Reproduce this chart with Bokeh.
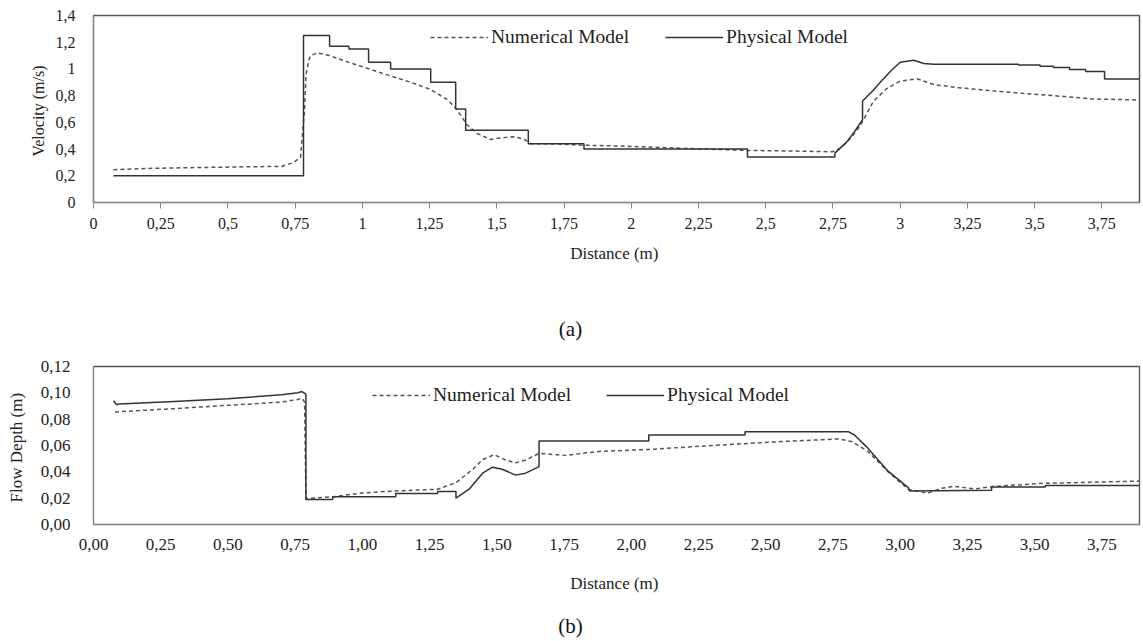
from bokeh.plotting import figure
from bokeh.models import Legend, LegendItem, FixedTicker, Div, Range1d
from bokeh.layouts import column
from bokeh.embed import file_html
from bokeh.resources import INLINE

# ---------------- data: (a) velocity ----------------
vel_phys_x = [0.074, 0.781, 0.781, 0.878, 0.878, 0.95, 0.95, 1.023, 1.023, 1.105, 1.105,
              1.254, 1.254, 1.347, 1.347, 1.384, 1.384, 1.617, 1.617, 1.824, 1.824,
              2.432, 2.432, 2.757, 2.757, 2.80, 2.83, 2.86, 2.86, 2.90, 2.93, 2.965,
              3.0, 3.05, 3.088, 3.125, 3.44, 3.44, 3.52, 3.52, 3.57, 3.57, 3.63, 3.63,
              3.69, 3.69, 3.76, 3.76, 3.9]
vel_phys_y = [0.2, 0.2, 1.25, 1.25, 1.17, 1.17, 1.15, 1.15, 1.05, 1.05, 1.0,
              1.0, 0.9, 0.9, 0.7, 0.7, 0.54, 0.54, 0.44, 0.44, 0.40,
              0.40, 0.34, 0.34, 0.37, 0.45, 0.53, 0.62, 0.76, 0.84, 0.91, 0.985,
              1.05, 1.065, 1.04, 1.035, 1.035, 1.03, 1.03, 1.02, 1.02, 1.01, 1.01, 0.995,
              0.995, 0.98, 0.98, 0.925, 0.925]

vel_num_x = [0.074, 0.2, 0.4, 0.6, 0.70, 0.745, 0.77, 0.785, 0.79, 0.80, 0.807, 0.833,
             0.878, 0.952, 1.03, 1.105, 1.18, 1.254, 1.316, 1.347, 1.37, 1.39, 1.427,
             1.477, 1.52, 1.563, 1.6, 1.626, 1.7, 1.81, 2.0, 2.2, 2.43, 2.6, 2.748,
             2.78, 2.82, 2.853, 2.90, 2.95, 3.0, 3.064, 3.125, 3.225, 3.35, 3.47, 3.6,
             3.72, 3.9]
vel_num_y = [0.245, 0.255, 0.262, 0.268, 0.27, 0.30, 0.34, 0.70, 0.95, 1.06, 1.10, 1.12,
             1.10, 1.047, 0.997, 0.947, 0.90, 0.846, 0.77, 0.706, 0.64, 0.58, 0.517,
             0.472, 0.485, 0.492, 0.475, 0.44, 0.44, 0.43, 0.42, 0.405, 0.39, 0.385, 0.38,
             0.41, 0.49, 0.58, 0.757, 0.853, 0.909, 0.926, 0.883, 0.858, 0.835, 0.815, 0.795,
             0.775, 0.767]

# ---------------- data: (b) flow depth ----------------
dep_phys_x = [0.075, 0.085, 0.095, 0.3, 0.5, 0.7, 0.76, 0.775, 0.79, 0.79, 0.89, 0.89,
              1.124, 1.124, 1.28, 1.28, 1.348, 1.348, 1.397, 1.447, 1.484, 1.52, 1.57,
              1.607, 1.657, 1.657, 2.065, 2.065, 2.423, 2.423, 2.807, 2.83, 2.88, 2.955,
              3.03, 3.035, 3.34, 3.34, 3.54, 3.54, 3.9]
dep_phys_y = [0.094, 0.091, 0.0915, 0.0935, 0.0955, 0.0985, 0.1, 0.101, 0.099, 0.019, 0.019, 0.021,
              0.021, 0.0235, 0.0235, 0.025, 0.025, 0.02, 0.0268, 0.039, 0.0435, 0.042, 0.0375,
              0.039, 0.044, 0.0635, 0.0635, 0.068, 0.068, 0.0705, 0.0705, 0.068, 0.058, 0.0405,
              0.028, 0.0255, 0.026, 0.0285, 0.0285, 0.0297, 0.0297]

dep_num_x = [0.08, 0.3, 0.5, 0.7, 0.76, 0.775, 0.785, 0.79, 0.89, 1.0, 1.124, 1.28, 1.348,
             1.41, 1.447, 1.49, 1.533, 1.57, 1.607, 1.657, 1.756, 1.88, 2.065, 2.3, 2.56,
             2.77, 2.82, 2.88, 2.955, 3.03, 3.103, 3.153, 3.2, 3.277, 3.35, 3.535, 3.7, 3.9]
dep_num_y = [0.0855, 0.088, 0.0905, 0.093, 0.095, 0.096, 0.093, 0.0197, 0.021, 0.024, 0.0255,
             0.0268, 0.0318, 0.0418, 0.0493, 0.053, 0.049, 0.0468, 0.049, 0.054, 0.0525, 0.0555,
             0.057, 0.06, 0.063, 0.065, 0.063, 0.0555, 0.04, 0.0268, 0.0238, 0.0275, 0.029,
             0.027, 0.029, 0.0313, 0.032, 0.033]

# ---------------- ticks ----------------
a_xticks = [0, 0.25, 0.5, 0.75, 1, 1.25, 1.5, 1.75, 2, 2.25, 2.5, 2.75, 3, 3.25, 3.5, 3.75]
a_xlabels = ["0", "0,25", "0,5", "0,75", "1", "1,25", "1,5", "1,75", "2", "2,25", "2,5",
             "2,75", "3", "3,25", "3,5", "3,75"]
a_yticks = [0, 0.2, 0.4, 0.6, 0.8, 1.0, 1.2, 1.4]
a_ylabels = ["0", "0,2", "0,4", "0,6", "0,8", "1", "1,2", "1,4"]
b_xticks = a_xticks
b_xlabels = ["0,00", "0,25", "0,50", "0,75", "1,00", "1,25", "1,50", "1,75", "2,00", "2,25",
             "2,50", "2,75", "3,00", "3,25", "3,50", "3,75"]
b_yticks = [0, 0.02, 0.04, 0.06, 0.08, 0.10, 0.12]
b_ylabels = ["0,00", "0,02", "0,04", "0,06", "0,08", "0,10", "0,12"]

FONT = "Liberation Serif"
W = 1141


def style(p, xt, xl, yt, yl, xlab, ylab, tick_size, ylab_size, xtick_out):
    p.xgrid.visible = False
    p.ygrid.visible = False
    p.xaxis.ticker = FixedTicker(ticks=xt)
    p.xaxis.major_label_overrides = {t: l for t, l in zip(xt, xl)}
    p.yaxis.ticker = FixedTicker(ticks=yt)
    p.yaxis.major_label_overrides = {t: l for t, l in zip(yt, yl)}
    for ax in (p.xaxis[0], p.yaxis[0]):
        ax.minor_tick_line_color = None
        ax.major_label_text_font = FONT
        ax.major_label_text_font_size = tick_size
        ax.major_label_text_color = "#222222"
        ax.axis_label_text_font = FONT
        ax.axis_label_text_font_style = "normal"
        ax.axis_label_text_color = "#222222"
        ax.axis_line_color = "#8a8a8a"
    p.xaxis.axis_label = xlab
    p.yaxis.axis_label = ylab
    p.xaxis.axis_label_text_font_size = "17px"
    p.yaxis.axis_label_text_font_size = ylab_size
    p.yaxis.major_tick_line_color = None
    p.xaxis.major_tick_in = 0
    p.xaxis.major_tick_out = xtick_out
    p.xaxis.major_tick_line_color = "#8a8a8a" if xtick_out else None


def caption(txt, height, pad):
    return Div(text=('<div style="width:%dpx;text-align:center;font-family:\'Liberation Serif\';'
                     'font-size:21px;padding-top:%dpx;color:#111">%s</div>') % (W, pad, txt),
               width=W, height=height, margin=0)


# ---------------- (a) ----------------
pa = figure(width=W, height=265, output_backend="svg", toolbar_location=None,
            x_range=Range1d(0, 3.89), y_range=Range1d(0, 1.4),
            min_border_left=93, min_border_right=2, min_border_top=15, min_border_bottom=10)
pa.outline_line_color = "#555555"
pa.outline_line_width = 1.5
style(pa, a_xticks, a_xlabels, a_yticks, a_ylabels, "Distance  (m)", "Velocity  (m/s)",
      "16px", "16px", 6)
pa.xaxis.major_label_standoff = 9
pa.xaxis.axis_label_standoff = 12
pa.yaxis.major_label_standoff = 12
pa.yaxis.axis_label_standoff = 6

ra_num = pa.line(vel_num_x, vel_num_y, line_color="#555555", line_width=1.5, line_dash="4 3")
ra_phys = pa.line(vel_phys_x, vel_phys_y, line_color="#333333", line_width=1.5)
leg_a = Legend(items=[LegendItem(label="Numerical Model", renderers=[ra_num]),
                      LegendItem(label="Physical Model", renderers=[ra_phys])],
               orientation="horizontal", location=(337, 154), glyph_width=58,
               label_standoff=3, spacing=36, padding=0, margin=0,
               border_line_alpha=0, background_fill_alpha=0,
               label_text_font=FONT, label_text_font_size="19.5px",
               label_text_color="#222222")
pa.add_layout(leg_a)

div_a = caption("(a)", 87, 49)

# ---------------- (b) ----------------
pb = figure(width=W, height=243, output_backend="svg", toolbar_location=None,
            x_range=Range1d(0, 3.89), y_range=Range1d(0, 0.12),
            min_border_left=90, min_border_right=2, min_border_top=14, min_border_bottom=10)
pb.outline_line_color = "#555555"
pb.outline_line_width = 1.3
style(pb, b_xticks, b_xlabels, b_yticks, b_ylabels, "Distance  (m)", "Flow  Depth (m)",
      "17px", "17px", 0)
pb.xaxis.major_label_standoff = 14
pb.xaxis.axis_label_standoff = 21
pb.yaxis.major_label_standoff = 17
pb.yaxis.axis_label_standoff = 12

rb_num = pb.line(dep_num_x, dep_num_y, line_color="#555555", line_width=1.5, line_dash="4 3")
rb_phys = pb.line(dep_phys_x, dep_phys_y, line_color="#333333", line_width=1.5)
leg_b = Legend(items=[LegendItem(label="Numerical Model", renderers=[rb_num]),
                      LegendItem(label="Physical Model", renderers=[rb_phys])],
               orientation="horizontal", location=(279, 118), glyph_width=58,
               label_standoff=3, spacing=35, padding=0, margin=0,
               border_line_alpha=0, background_fill_alpha=0,
               label_text_font=FONT, label_text_font_size="19.5px",
               label_text_color="#222222")
pb.add_layout(leg_b)

div_b = caption("(b)", 43, 16)

layout = column(pa, div_a, pb, div_b, spacing=0)
open("out.html", "w").write(file_html(layout, INLINE))
